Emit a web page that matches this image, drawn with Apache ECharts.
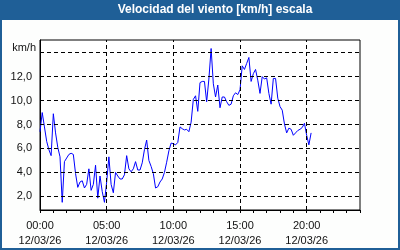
<!DOCTYPE html>
<html>
<head>
<meta charset="utf-8">
<script src="https://cdn.jsdelivr.net/npm/echarts@6/dist/echarts.min.js"></script>
<style>html,body{margin:0;padding:0;background:#fdfefd;}#c{width:400px;height:250px;}</style>
</head>
<body>
<div id="c"></div>
<script>
var titleText = 'Velocidad del viento [km/h] escala';
var unitLabel = 'km/h';
var dateLabel = '12/03/26';
var stepMinutes = 10;
var windSpeed = [
  7.4, 9.0, 7.8, 6.6, 5.9, 5.4, 8.9, 7.3, 6.1, 5.3,
  1.5, 4.9, 5.2, 5.5, 5.6, 5.5, 3.9, 2.75, 3.2, 3.3,
  2.7, 3.0, 4.3, 2.5, 3.0, 4.6, 1.85, 3.7, 2.4, 1.5,
  3.2, 5.3, 3.0, 2.3, 4.0, 3.7, 3.45, 3.45, 3.8, 5.4,
  4.3, 4.05, 4.3, 4.9, 4.2, 4.2, 4.8, 5.9, 6.7, 5.0,
  4.5, 3.9, 2.7, 2.8, 3.2, 3.45, 4.0, 4.85, 5.8, 6.45,
  6.4, 6.3, 6.5, 7.8, 7.65, 7.55, 7.6, 7.4, 8.2, 10.1,
  10.4, 9.1, 11.5, 11.6, 11.6, 9.9, 11.8, 14.35, 11.4, 10.3,
  11.3, 9.4, 10.3, 10.3, 9.9, 9.6, 9.7, 10.4, 10.65, 10.5,
  10.9, 12.9, 12.6, 13.1, 13.6, 11.6, 12.25, 12.6, 11.7, 10.6,
  12.0, 11.8, 11.9, 10.6, 9.7, 11.85, 11.85, 10.2, 9.5, 9.2,
  8.05, 7.3, 7.7, 7.6, 7.1, 7.3, 7.5, 7.6, 7.75, 8.1,
  7.1, 6.3, 7.3
];
var xLabelMinutes = [0, 300, 600, 900, 1200];
var xTickMinutes = [];
for (var m = 0; m <= 1440; m += 60) xTickMinutes.push(m);
var yLabelValues = [2, 4, 6, 8, 10, 12];
var yGridValues = [2, 4, 6, 8, 10, 12, 14];
var xGridMinutes = [300, 600, 900, 1200];

var points = windSpeed.map(function (v, i) { return [i * stepMinutes, v]; });
function pad(n) { return (n < 10 ? '0' : '') + n; }
var font = 'Liberation Sans';
var blue = '#1f5f97';
var dash = [4, 3];

var chart = echarts.init(document.getElementById('c'), null, { renderer: 'canvas' });
var gridLines = [];
yGridValues.forEach(function (v) { gridLines.push({ yAxis: v }); });
xGridMinutes.forEach(function (v) { gridLines.push({ xAxis: v }); });

chart.setOption({
  animation: false,
  backgroundColor: '#fdfefd',
  graphic: [
    { type: 'rect', shape: { x: 0, y: 0, width: 400, height: 20 }, style: { fill: blue }, z: 10 },
    { type: 'rect', shape: { x: 1, y: 1, width: 398, height: 248 }, style: { fill: null, stroke: blue, lineWidth: 2 }, z: 10 },
    { type: 'text', x: 215, y: 10, style: { text: titleText, fill: '#ffffff', font: 'bold 12px "' + font + '"', textAlign: 'center', textVerticalAlign: 'middle' }, z: 11 }
  ],
  grid: { left: 40, right: 40, top: 40, bottom: 40, show: true, backgroundColor: '#ffffff', borderColor: '#000', borderWidth: 1 },
  xAxis: {
    type: 'value', min: 0, max: 1440,
    axisLine: { show: true, onZero: false, lineStyle: { color: '#000', width: 1 } },
    axisTick: { show: true, inside: false, length: 3, lineStyle: { color: '#000' }, customValues: xTickMinutes },
    splitLine: { show: false },
    axisLabel: {
      customValues: xLabelMinutes, margin: 8, color: '#111', fontFamily: font, fontSize: 11, lineHeight: 15,
      formatter: function (v) { return pad(Math.floor(v / 60)) + ':' + pad(v % 60) + '\n' + dateLabel; }
    }
  },
  yAxis: {
    type: 'value', min: 0.86, max: 15.06,
    name: unitLabel, nameLocation: 'end', nameGap: -8,
    nameTextStyle: { color: '#111', fontFamily: font, fontSize: 11, align: 'right', verticalAlign: 'middle', padding: [0, 4, 0, 0] },
    axisLine: { show: true, lineStyle: { color: '#000', width: 1 } },
    axisTick: { show: false },
    splitLine: { show: false },
    axisLabel: {
      customValues: yLabelValues, margin: 8, color: '#111', fontFamily: font, fontSize: 11,
      formatter: function (v) { return v.toFixed(1).replace('.', ','); }
    }
  },
  series: [
    {
      type: 'line', data: [], z: 1, silent: true,
      markLine: { silent: true, symbol: 'none', label: { show: false }, animation: false,
        lineStyle: { color: '#000', width: 1, type: dash }, data: gridLines }
    },
    {
      type: 'line', data: points, z: 2, showSymbol: false, symbol: 'none',
      lineStyle: { color: '#0000ff', width: 1 }, silent: true
    }
  ]
});
</script>
</body>
</html>
